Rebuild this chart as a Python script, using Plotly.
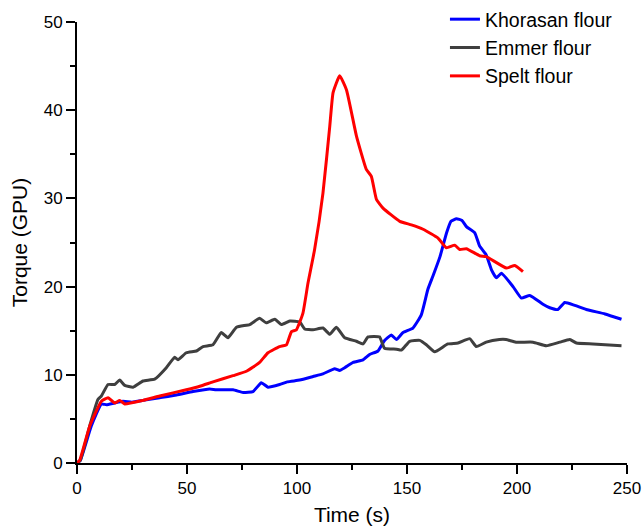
import plotly.graph_objects as go

# Khorasan flour (blue)
khorasan_t = [0, 1.5, 6.5, 11.1, 13.4, 17, 20.9, 25, 30, 37.6, 45.2, 52.7, 60.3, 63.3, 70.9, 75.5, 80, 83.8, 86.8,
              92.1, 95.6, 101.2, 107.3, 111.8, 117.1, 119.4, 121.7, 125.5, 130, 133, 136.8, 139.8, 142.9, 145.2,
              148.2, 152.7, 156.5, 159.5, 161.8, 165, 168, 170, 172.5, 175, 177, 180.8, 183, 186, 188.4, 190.6,
              192.9, 198.2, 202, 205.8, 211.8, 214.9, 218.6, 221.7, 226, 231.5, 240, 247.5]
khorasan_v = [0, 0.3, 4.2, 6.7, 6.6, 6.8, 7.0, 6.9, 7.1, 7.4, 7.7, 8.1, 8.4, 8.3, 8.3, 8.0, 8.1, 9.1, 8.6,
              8.9, 9.2, 9.4, 9.8, 10.1, 10.7, 10.5, 10.8, 11.4, 11.7, 12.3, 12.7, 13.9, 14.5, 14.0,
              14.8, 15.3, 16.8, 19.7, 21.2, 23.4, 26.1, 27.4, 27.7, 27.5, 26.8, 26.1, 24.6, 23.6, 21.9, 21.0,
              21.5, 20.0, 18.7, 19.0, 18.0, 17.6, 17.4, 18.2, 17.9, 17.4, 16.9, 16.3]

# Emmer flour (dark grey)
emmer_t = [0, 1.5, 6, 9.5, 11.1, 14.1, 17.1, 19.4, 21.7, 25.5, 30, 35.3, 40.6, 44.4, 45.9, 49.7, 54.3, 57.3,
           61.8, 65.6, 68.6, 72.5, 78.5, 83, 86, 89.9, 92.9, 96.7, 101.2, 103.5, 107.3, 111.8, 114.9, 117.9,
           121.7, 127, 130, 132.3, 137.5, 139.8, 145.2, 147.5, 151.2, 155.8, 158.8, 162.6, 168.6, 173.2,
           178.5, 181.5, 186, 192, 195, 199.5, 207.3, 213.3, 219.4, 224, 227, 234.5, 247.5]
emmer_v = [0, 0.3, 4.4, 7.2, 7.6, 8.9, 8.9, 9.4, 8.8, 8.6, 9.3, 9.5, 10.8, 12.0, 11.7, 12.5, 12.7, 13.2,
           13.4, 14.8, 14.2, 15.4, 15.7, 16.4, 15.9, 16.3, 15.7, 16.1, 16.0, 15.2, 15.1, 15.3, 14.6, 15.4,
           14.2, 13.8, 13.5, 14.3, 14.3, 13.0, 12.9, 12.8, 13.8, 13.9, 13.4, 12.6, 13.5, 13.6,
           14.1, 13.2, 13.7, 14.0, 14.0, 13.7, 13.7, 13.3, 13.7, 14.0, 13.6, 13.5, 13.3]

# Spelt flour (red)
spelt_t = [0, 1.2, 5.8, 11.1, 14.1, 17.1, 19.4, 21.7, 30, 37.6, 49.7, 55.8, 61.8, 70.9, 77, 83, 86.8, 92.1,
           95.2, 97.5, 99.7, 102.7, 105, 108, 111.8, 114.9, 116.4, 119.4, 122.5, 127, 131.5, 133.8, 136.1,
           139.1, 146.7, 152, 157.3, 164.1, 167.9, 171.7, 174, 177, 183, 186, 195.2, 199, 202.7]
spelt_v = [0, 0.3, 4.2, 7.0, 7.4, 6.8, 7.1, 6.7, 7.1, 7.6, 8.3, 8.7, 9.2, 9.9, 10.4, 11.4, 12.5, 13.2,
           13.4, 14.9, 15.1, 17.0, 20.4, 24.2, 30.6, 38.2, 42.0, 43.9, 42.3, 37.1, 33.3, 32.5, 29.9,
           28.9, 27.4, 27.0, 26.5, 25.5, 24.4, 24.7, 24.2, 24.3, 23.5, 23.4, 22.1, 22.4, 21.7]

font = "Arial"

fig = go.Figure()
fig.add_trace(go.Scatter(x=khorasan_t, y=khorasan_v, mode="lines", name="Khorasan flour",
                         line=dict(color="#0000ff", width=3, shape="spline", smoothing=0.4)))
fig.add_trace(go.Scatter(x=emmer_t, y=emmer_v, mode="lines", name="Emmer flour",
                         line=dict(color="#3f3f3f", width=3, shape="spline", smoothing=0.4)))
fig.add_trace(go.Scatter(x=spelt_t, y=spelt_v, mode="lines", name="Spelt flour",
                         line=dict(color="#ff0000", width=3, shape="spline", smoothing=0.4)))

axis_style = dict(showline=True, linecolor="black", linewidth=2, showgrid=False, zeroline=False,
                  automargin=False, ticks="outside", ticklen=9, tickwidth=1.5, tickcolor="black",
                  tickfont=dict(family=font, size=17, color="black"))

fig.update_xaxes(range=[0, 250], dtick=50, tick0=0,
                 minor=dict(dtick=25, ticks="outside", ticklen=5, tickwidth=1.5, tickcolor="black"),
                 title=dict(text="Time (s)", font=dict(family=font, size=21, color="black"), standoff=10),
                 **axis_style)
# top margin is 0 (keeps the legend from pushing margins); the gap above the plot comes from the domain
fig.update_yaxes(range=[0, 50], dtick=10, tick0=0, domain=[0, 1 - 22 / 463],
                 minor=dict(dtick=5, ticks="outside", ticklen=5, tickwidth=1.5, tickcolor="black"),
                 title=dict(text="Torque (GPU)", font=dict(family=font, size=21, color="black"), standoff=10),
                 **axis_style)

fig.update_layout(
    width=642, height=529,
    margin=dict(l=77, r=15, t=0, b=66),
    plot_bgcolor="white", paper_bgcolor="white",
    legend=dict(x=0.669, y=1.0, xanchor="left", yanchor="top",
                bgcolor="rgba(0,0,0,0)", font=dict(family=font, size=19.5, color="black"),
                tracegroupgap=0),
)

fig.write_html("out.html", config={"displayModeBar": False},
               post_script="document.body.style.margin='0';document.body.style.overflow='hidden';")
